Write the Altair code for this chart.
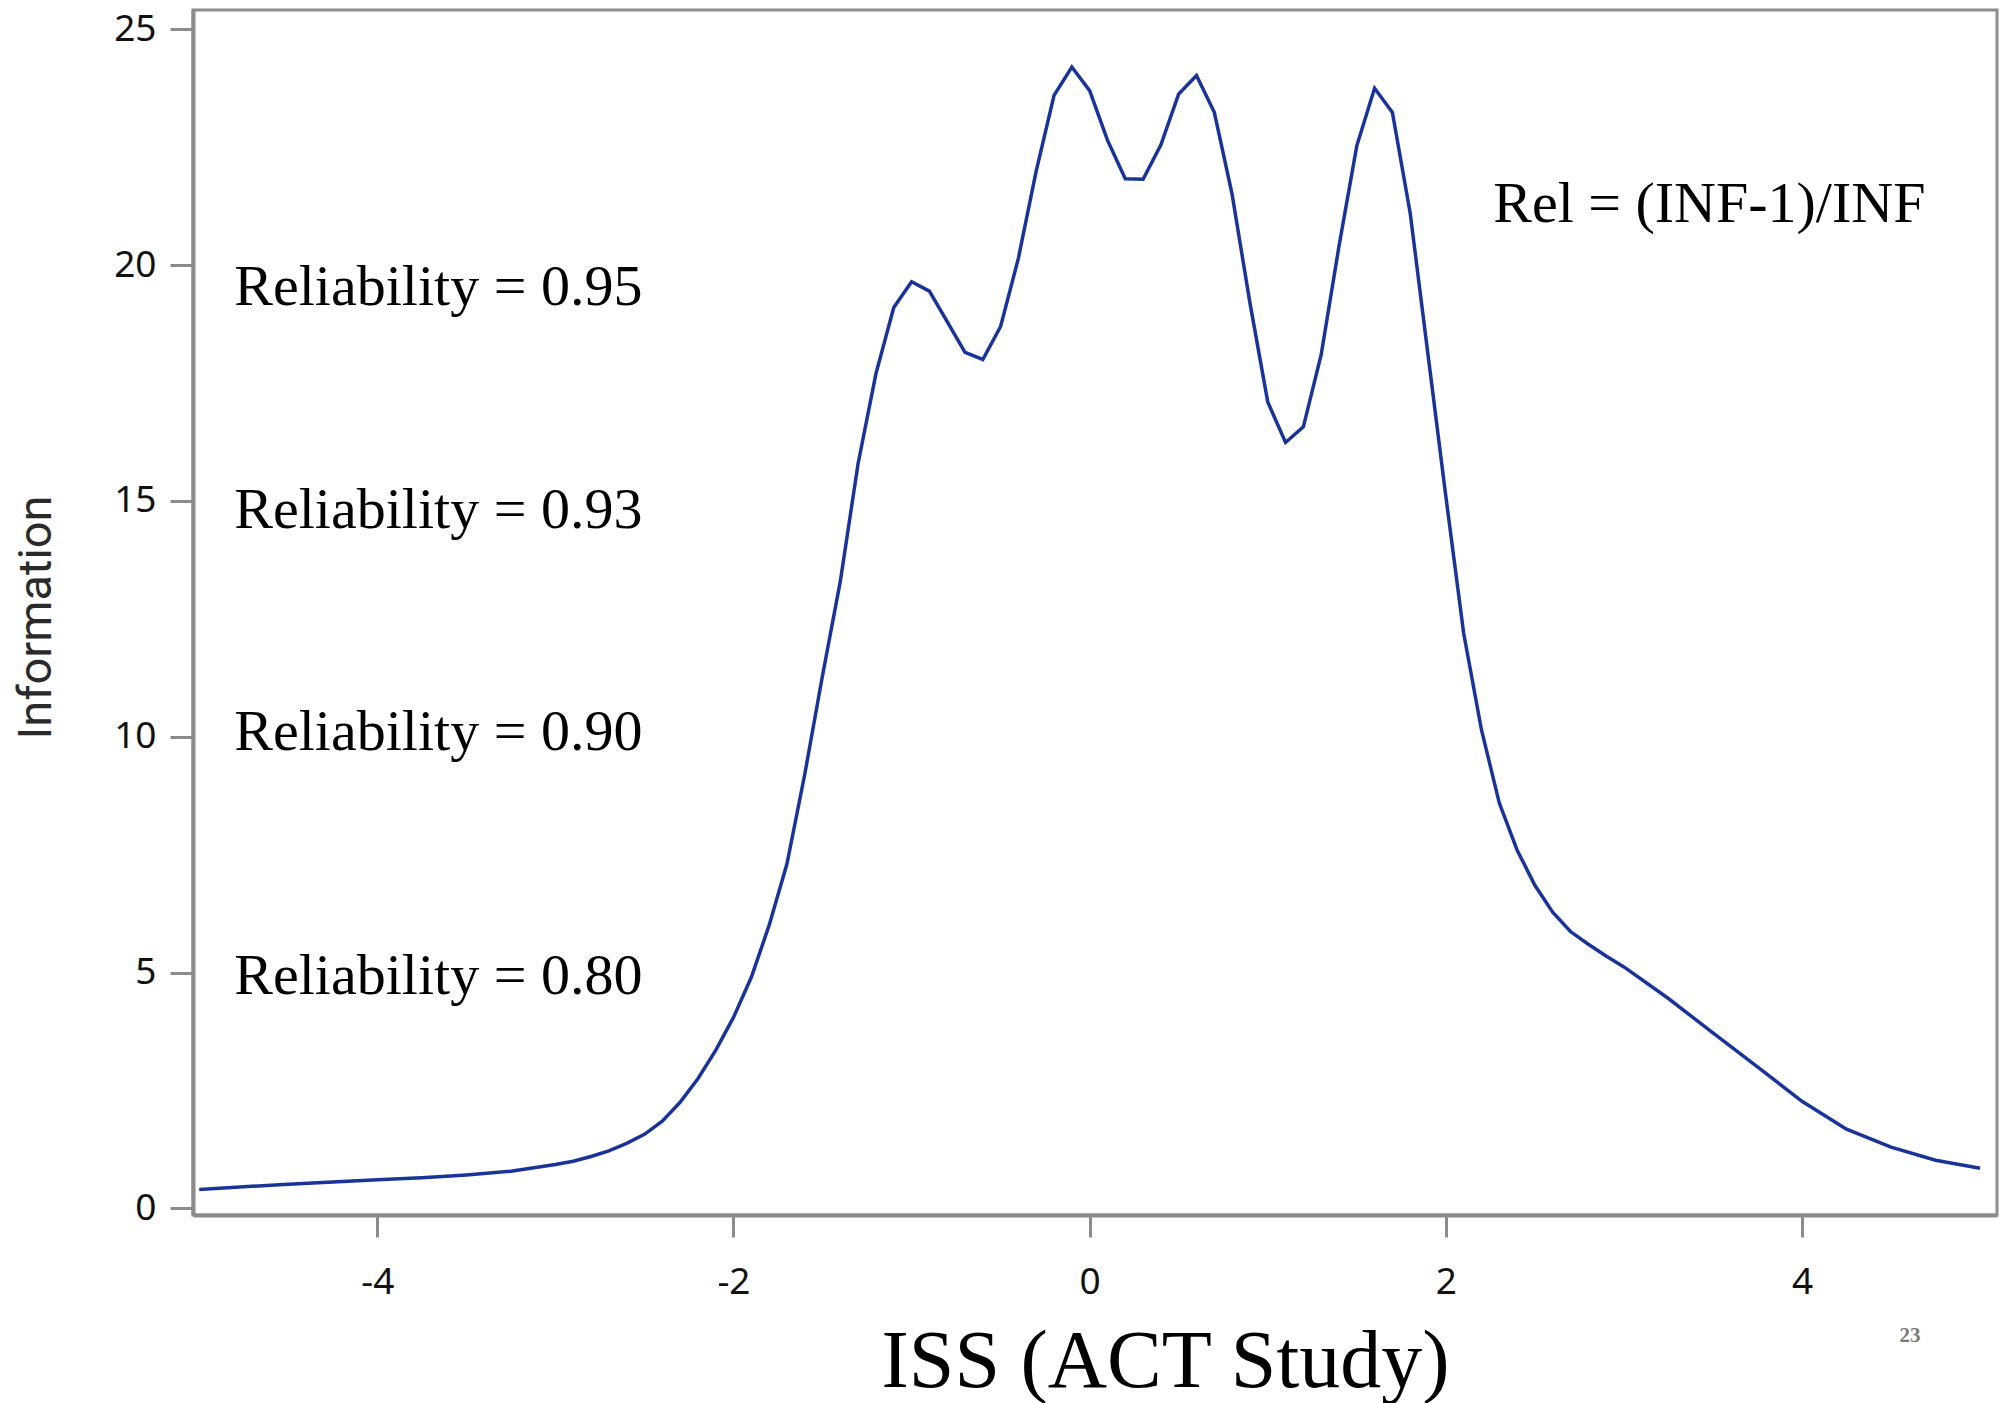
import altair as alt
import pandas as pd

# Test information curve (theta, information)
theta = [-5.0, -4.75, -4.5, -4.25, -4.0, -3.75, -3.5, -3.25,
         -3.0, -2.9, -2.8, -2.7, -2.6, -2.5, -2.4, -2.3, -2.2, -2.1,
         -2.0, -1.9, -1.8, -1.7, -1.6, -1.5, -1.4, -1.3, -1.2, -1.1,
         -1.0, -0.9, -0.8, -0.7, -0.6, -0.5, -0.4, -0.3, -0.2, -0.1,
         0.0, 0.1, 0.2, 0.3, 0.4, 0.5, 0.6, 0.7, 0.8, 0.9,
         1.0, 1.1, 1.2, 1.3, 1.4, 1.5, 1.6, 1.7, 1.8, 1.9,
         2.0, 2.1, 2.2, 2.3, 2.4, 2.5, 2.6, 2.7, 2.8, 2.9,
         3.0, 3.25, 3.5, 3.75, 4.0, 4.25, 4.5, 4.75, 5.0]
information = [0.40, 0.46, 0.51, 0.56, 0.61, 0.65, 0.71, 0.79,
               0.93, 1.00, 1.10, 1.22, 1.38, 1.57, 1.85, 2.25, 2.75, 3.35,
               4.05, 4.90, 6.00, 7.30, 9.20, 11.30, 13.30, 15.80, 17.70, 19.10,
               19.65, 19.45, 18.80, 18.15, 18.00, 18.70, 20.15, 22.00, 23.60, 24.20,
               23.70, 22.65, 21.83, 21.82, 22.55, 23.63, 24.02, 23.24, 21.50, 19.20,
               17.10, 16.24, 16.57, 18.10, 20.40, 22.53, 23.75, 23.24, 21.10, 18.10,
               15.10, 12.20, 10.15, 8.60, 7.60, 6.85, 6.28, 5.87, 5.60, 5.35,
               5.12, 4.45, 3.72, 3.00, 2.27, 1.68, 1.30, 1.02, 0.85]

# Reliability annotations
rel_text = ["Reliability = 0.95", "Reliability = 0.93",
            "Reliability = 0.90", "Reliability = 0.80"]
rel_x = [-4.803, -4.803, -4.803, -4.803]
rel_y = [19.16, 14.43, 9.73, 4.55]

formula_text = ["Rel = (INF-1)/INF"]
formula_x = [2.266]
formula_y = [20.92]

page_text = ["23"]
page_x = [4.607]
page_y = [-2.70]

x_ticks = [-4, -2, 0, 2, 4]
y_ticks = [0, 5, 10, 15, 20, 25]

df = pd.DataFrame({"theta": theta, "info": information})
df_rel = pd.DataFrame({"x": rel_x, "y": rel_y, "t": rel_text})
df_formula = pd.DataFrame({"x": formula_x, "y": formula_y, "t": formula_text})
df_page = pd.DataFrame({"x": page_x, "y": page_y, "t": page_text})

xscale = alt.Scale(domain=[-5.035, 5.095], nice=False, zero=False)
yscale = alt.Scale(domain=[-0.14, 25.41], nice=False, zero=False)

AXIS_GRAY = "#8c8c8c"

x_axis = alt.Axis(
    values=x_ticks, labelExpr="'' + datum.value", grid=False,
    domainColor=AXIS_GRAY, domainWidth=4,
    tickColor=AXIS_GRAY, tickWidth=3, tickSize=22,
    labelFont="Noto Sans", labelFontSize=37, labelColor="#111111", labelPadding=27,
    title="ISS (ACT Study)", titleFont="Liberation Serif", titleFontSize=82,
    titleFontWeight="normal", titleColor="#000000",
    titleX=972, titleY=171, titleAlign="center", titleBaseline="alphabetic",
)
y_axis = alt.Axis(
    values=y_ticks, grid=False,
    domainColor=AXIS_GRAY, domainWidth=4,
    tickColor=AXIS_GRAY, tickWidth=3, tickSize=23,
    labelFont="Noto Sans", labelFontSize=37, labelColor="#111111", labelPadding=14,
    title="Information", titleFont="Roboto", titleFontSize=47,
    titleFontWeight="normal", titleColor="#2a2a2a",
    titleAngle=270, titleX=-157, titleY=607, titleAlign="center", titleBaseline="middle",
)

line = alt.Chart(df).mark_line(color="#1a3399", strokeWidth=3.5).encode(
    x=alt.X("theta:Q", scale=xscale, axis=x_axis),
    y=alt.Y("info:Q", scale=yscale, axis=y_axis),
)

rel = alt.Chart(df_rel).mark_text(
    align="left", baseline="alphabetic", font="Liberation Serif",
    fontSize=58, color="#000000"
).encode(
    x=alt.X("x:Q", scale=xscale), y=alt.Y("y:Q", scale=yscale), text="t:N"
)

formula = alt.Chart(df_formula).mark_text(
    align="left", baseline="alphabetic", font="Liberation Serif",
    fontSize=58, color="#000000"
).encode(
    x=alt.X("x:Q", scale=xscale), y=alt.Y("y:Q", scale=yscale), text="t:N"
)

page = alt.Chart(df_page).mark_text(
    align="center", baseline="middle", font="Liberation Serif",
    fontSize=21, fontWeight="bold", color="#7a7a7a"
).encode(
    x=alt.X("x:Q", scale=xscale), y=alt.Y("y:Q", scale=yscale), text="t:N"
)

chart = alt.layer(line, rel, formula, page).properties(
    width=1804, height=1205,
    autosize=alt.AutoSizeParams(type="none"),
    padding={"left": 193, "top": 10, "right": 10, "bottom": 188},
    background="white",
).configure_view(
    stroke=AXIS_GRAY, strokeWidth=3
)

chart.save("out.html", embed_options={"renderer": "svg", "actions": False})
